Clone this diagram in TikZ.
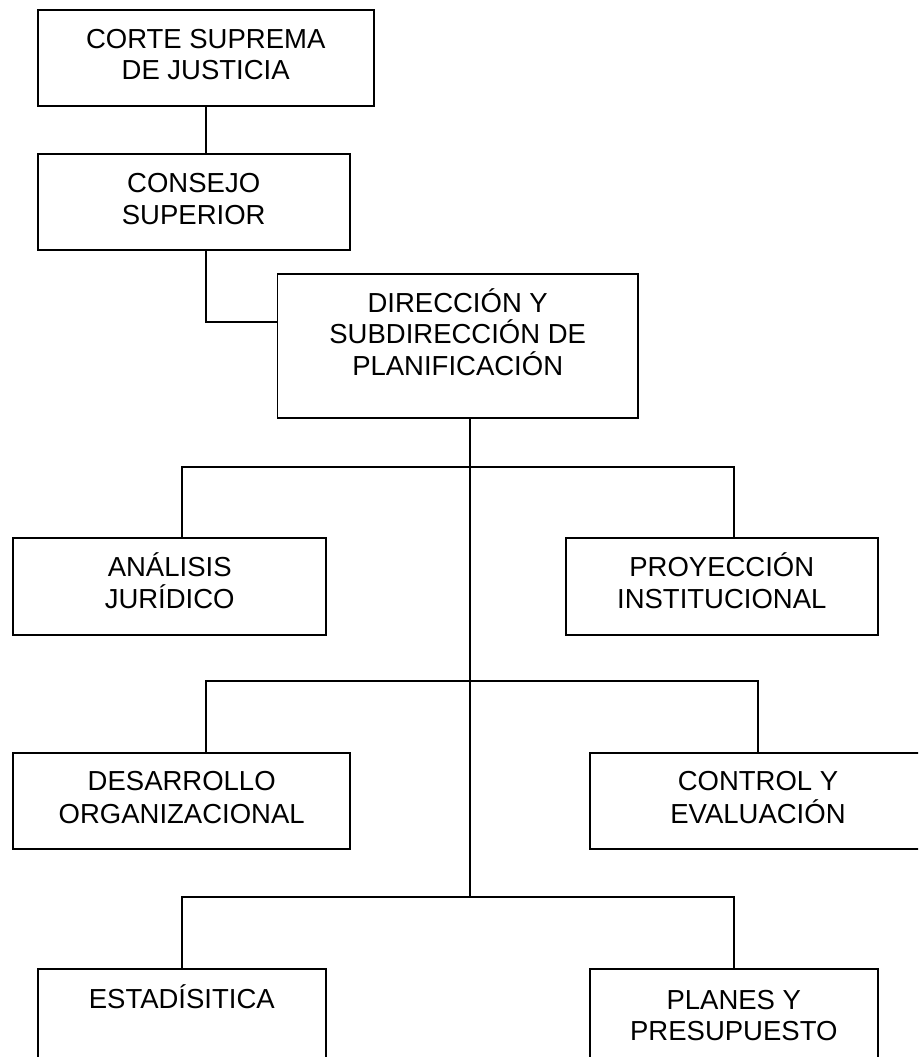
\documentclass[tikz,border=0pt]{standalone}
\usepackage{fontspec}
\setmainfont{Liberation Sans}
\begin{document}
\begin{tikzpicture}[x=1pt,y=-1pt,
  box/.style={draw=black,line width=1.7pt,rectangle,inner sep=0pt,outer sep=0pt},
  txt/.style={anchor=base,inner sep=0pt,font=\fontsize{27.5}{33}\selectfont},
  conn/.style={draw=black,line width=1.7pt,line cap=rect}]
\useasboundingbox (0,0) rectangle (918,1057);
\clip (0,0) rectangle (918,1057);
% boxes
\node[box,minimum width=336pt,minimum height=95.7pt] (b1) at (205.7,58.15) {};
\node[box,minimum width=312pt,minimum height=95.4pt] (b2) at (193.7,202) {};
\node[box,minimum width=360.5pt,minimum height=143.7pt] (b3) at (457.75,345.85) {};
\node[box,minimum width=312.7pt,minimum height=96.4pt] (anal) at (169.65,586.5) {};
\node[box,minimum width=312.3pt,minimum height=96.4pt] (proy) at (721.85,586.5) {};
\node[box,minimum width=336.7pt,minimum height=96pt] (desa) at (181.65,801) {};
\node[box,minimum width=336.3pt,minimum height=96pt] (ctrl) at (757.85,801) {};
\node[box,minimum width=288.3pt,minimum height=96pt] (esta) at (181.85,1017.3) {};
\node[box,minimum width=288.3pt,minimum height=96pt] (plan) at (733.85,1017.3) {};
% texts
\node[txt] (b1a) at (205.7,48.3) {CORTE SUPREMA};
\node[txt] (b1b) at (205.7,80) {DE JUSTICIA};
\node[txt] (b2a) at (193.7,192.7) {CONSEJO};
\node[txt] (b2b) at (193.7,224) {SUPERIOR};
\node[txt] (b3a) at (457.7,312.3) {DIRECCIÓN Y};
\node[txt] (b3b) at (457.7,343.5) {SUBDIRECCIÓN DE};
\node[txt] (b3c) at (457.7,375.3) {PLANIFICACIÓN};
\node[txt] (anala) at (169.7,576) {ANÁLISIS};
\node[txt] (analb) at (169.7,608.3) {JURÍDICO};
\node[txt] (proya) at (721.8,576) {PROYECCIÓN};
\node[txt] (proyb) at (721.8,608.3) {INSTITUCIONAL};
\node[txt] (desaa) at (181.7,790.7) {DESARROLLO};
\node[txt] (desab) at (181.7,823.3) {ORGANIZACIONAL};
\node[txt] (ctrla) at (758,790.7) {CONTROL Y};
\node[txt] (ctrlb) at (758,823.3) {EVALUACIÓN};
\node[txt] (estaa) at (181.8,1008) {ESTADÍSITICA};
\node[txt] (plana) at (733.8,1009.5) {PLANES Y};
\node[txt] (planb) at (733.8,1040) {PRESUPUESTO};
% junction coordinates
\coordinate (c1) at (205.7,322.3);
\coordinate (t1) at (470,466.7);
\coordinate (t2) at (470,681);
\coordinate (t3) at (470,896.7);
\coordinate (h1l) at (181.7,466.7);
\coordinate (h1r) at (734,466.7);
\coordinate (h2l) at (205.7,681);
\coordinate (h2r) at (758.3,681);
\coordinate (h3l) at (181.7,896.7);
\coordinate (h3r) at (734,896.7);
% connectors
\draw[conn] (b1.south) -- (b1.south |- b2.north);
\draw[conn] (c1 |- b2.south) -- (c1) -- (b3.west |- c1);
\draw[conn] (t1 |- b3.south) -- (t3);
\draw[conn] (h1l |- anal.north) -- (h1l) -- (h1r) -- (h1r |- proy.north);
\draw[conn] (h2l |- desa.north) -- (h2l) -- (h2r) -- (h2r |- ctrl.north);
\draw[conn] (h3l |- esta.north) -- (h3l) -- (h3r) -- (h3r |- plan.north);
\end{tikzpicture}
\end{document}
